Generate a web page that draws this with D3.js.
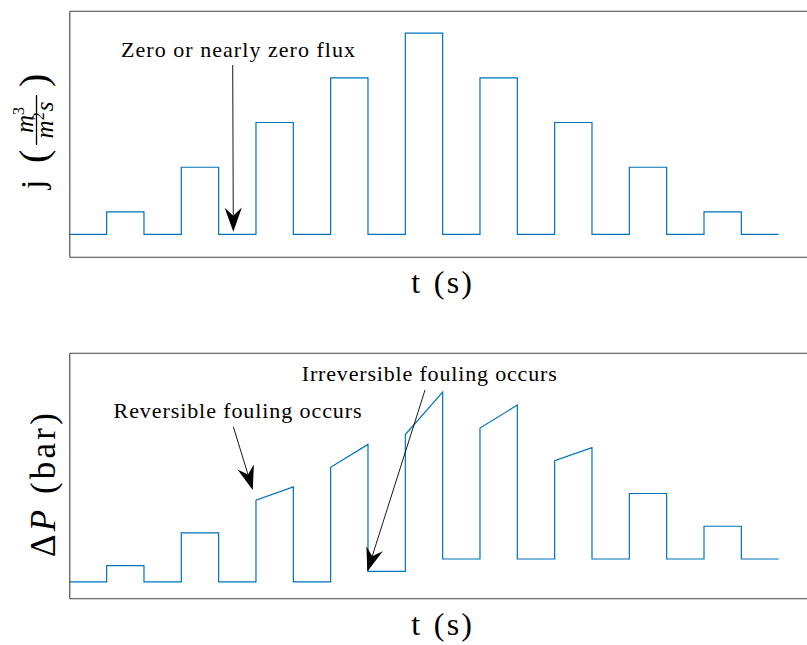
<!DOCTYPE html>
<html><head><meta charset="utf-8">
<script src="https://cdn.jsdelivr.net/npm/d3@7"></script>
<style>html,body{margin:0;padding:0;background:#fff;} svg{display:block;} text{font-family:"Liberation Serif",serif;fill:#000;}</style>
</head><body>
<svg id="c" width="807" height="645"></svg>
<script>
// ---- data ----
const segIndex = d3.range(19);                 // 19 time intervals
const fluxLevels = [0,1,0,3,0,5,0,7,0,9,0,7,0,5,0,3,0,1,0];
const dpStart = [0,1,0,3,0,5,0,7,0.65,9,1.4,9.4,1.4,7.4,1.4,5.4,1.4,3.4,1.4];
const dpEnd   = [0,1,0,3,0,5.8,0,8.4,0.65,11.6,1.4,10.8,1.4,8.2,1.4,5.4,1.4,3.4,1.4];
const xLabel = "t (s)";
const topNotes = [{text:"Zero or nearly zero flux", t:4.52, v:7.95, w:234}];
const topArrows = [{t0:4.377, v0:7.57, t1:4.393, v1:0.12}];
const botNotes = [{text:"Reversible fouling occurs", t:4.507, v:10.0, w:248},
                  {text:"Irreversible fouling occurs", t:9.641, v:12.27, w:255}];
const botArrows = [{t0:4.393, v0:9.48, t1:4.913, v1:5.62},
                   {t0:9.528, v0:11.72, t1:7.983, v1:0.63}];

const svg = d3.select("#c");
svg.append("rect").attr("width",807).attr("height",645).attr("fill","#fff");
const blue = "#0072BD";
const x = d3.scaleLinear().domain([0,20]).range([69.3, 816]);
const yTop = d3.scaleLinear().domain([-1,10]).range([256.7, 10.7]);
const yBot = d3.scaleLinear().domain([-1,14]).range([598.3, 352.7]);

function box(y){
  const [yb, yt] = y.range();
  const axes = [
    [d3.axisBottom(x).tickValues([]).tickSizeOuter(0), `translate(0,${yb})`],
    [d3.axisTop(x).tickValues([]).tickSizeOuter(0), `translate(0,${yt})`],
    [d3.axisLeft(y).tickValues([]).tickSizeOuter(0), `translate(${x.range()[0]},0)`],
    [d3.axisRight(y).tickValues([]).tickSizeOuter(0), `translate(${x.range()[1]},0)`]
  ];
  axes.forEach(([a,tr])=>{
    const g = svg.append("g").attr("transform",tr).call(a);
    g.select(".domain").attr("stroke","#404040").attr("stroke-width",1.1);
  });
}
box(yTop); box(yBot);

// top flux line (step)
const topPts = segIndex.map(i=>[i, fluxLevels[i]]).concat([[19, fluxLevels[18]]]);
svg.append("path").attr("fill","none").attr("stroke",blue).attr("stroke-width",1.2)
  .attr("d", d3.line().x(d=>x(d[0])).y(d=>yTop(d[1])).curve(d3.curveStepAfter)(topPts));

// bottom pressure line
const botPts = [];
segIndex.forEach(i=>{ botPts.push([i, dpStart[i]]); botPts.push([i+1, dpEnd[i]]); });
svg.append("path").attr("fill","none").attr("stroke",blue).attr("stroke-width",1.2)
  .attr("d", d3.line().x(d=>x(d[0])).y(d=>yBot(d[1]))(botPts));

function arrow(a, y){
  const x0=x(a.t0), y0=y(a.v0), x1=x(a.t1), y1=y(a.v1);
  const dx=x1-x0, dy=y1-y0, len=Math.hypot(dx,dy);
  const ux=dx/len, uy=dy/len, nx=-uy, ny=ux;
  const L=24, Wd=8.6, N=16;
  svg.append("line").attr("x1",x0).attr("y1",y0).attr("x2",x1-ux*N).attr("y2",y1-uy*N)
    .attr("stroke","#000").attr("stroke-width",0.9);
  const pts=[[x1,y1],[x1-ux*L+nx*Wd, y1-uy*L+ny*Wd],[x1-ux*N, y1-uy*N],[x1-ux*L-nx*Wd, y1-uy*L-ny*Wd]];
  svg.append("polygon").attr("points", pts.map(p=>p.join(",")).join(" ")).attr("fill","#000");
}
function note(n, y){
  svg.append("text").attr("x",x(n.t)).attr("y",y(n.v)).attr("text-anchor","middle")
    .attr("font-size",22).attr("textLength",n.w).attr("lengthAdjust","spacing").text(n.text);
}
topNotes.forEach(n=>note(n,yTop)); topArrows.forEach(a=>arrow(a,yTop));
botNotes.forEach(n=>note(n,yBot)); botArrows.forEach(a=>arrow(a,yBot));

// fill a text to a target width: letter spacing, rest in word spacing
function fitWords(t, target, ls){
  t.attr("letter-spacing", ls);
  const w = t.node().getComputedTextLength();
  const spaces = (t.text().match(/ /g)||[]).length || 1;
  t.attr("word-spacing", Math.max(0,(target-w)/spaces));
}

// x labels
const xc = (69.3+816)/2;
[[yTop,36.6],[yBot,36.6]].forEach(([y,off])=>{
  const t = svg.append("text").attr("x",xc).attr("y",y.range()[0]+off).attr("text-anchor","middle")
    .attr("font-size",32).text(xLabel);
  fitWords(t, 63, 2.2);
});

// y label top: j (m^3 / m^2 s)
const gj = svg.append("g").attr("transform","translate(44,192) rotate(-90)");
gj.append("text").attr("x",3).attr("y",0).attr("font-size",33).text("j");
gj.append("text").attr("x",29).attr("y",3).attr("font-size",40).text("(");
gj.append("line").attr("x1",47).attr("x2",97).attr("y1",-7.5).attr("y2",-7.5).attr("stroke","#000").attr("stroke-width",1.3);
const num = gj.append("text").attr("x",72).attr("y",-11).attr("text-anchor","middle").attr("font-size",25);
num.append("tspan").attr("font-style","italic").text("m");
num.append("tspan").attr("font-size",16).attr("dy",-9).text("3");
const den = gj.append("text").attr("x",72).attr("y",9).attr("text-anchor","middle").attr("font-size",25);
den.append("tspan").attr("font-style","italic").text("m");
den.append("tspan").attr("font-size",16).attr("dy",-9).text("2");
den.append("tspan").attr("dy",9).attr("dx",1).attr("font-style","italic").text("s");
gj.append("text").attr("x",105).attr("y",3).attr("font-size",40).text(")");

// y label bottom: ΔP (bar)
const gp = svg.append("g").attr("transform","translate(55,557) rotate(-90)");
const tp = gp.append("text").attr("x",0).attr("y",0).attr("font-size",35).attr("letter-spacing",3.2);
tp.append("tspan").text("Δ");
tp.append("tspan").attr("font-style","italic").text("P");
tp.append("tspan").text(" (bar)");
{
  const w = tp.node().getComputedTextLength();
  tp.attr("word-spacing", Math.max(0, 147 - w));
}
</script>
</body></html>
